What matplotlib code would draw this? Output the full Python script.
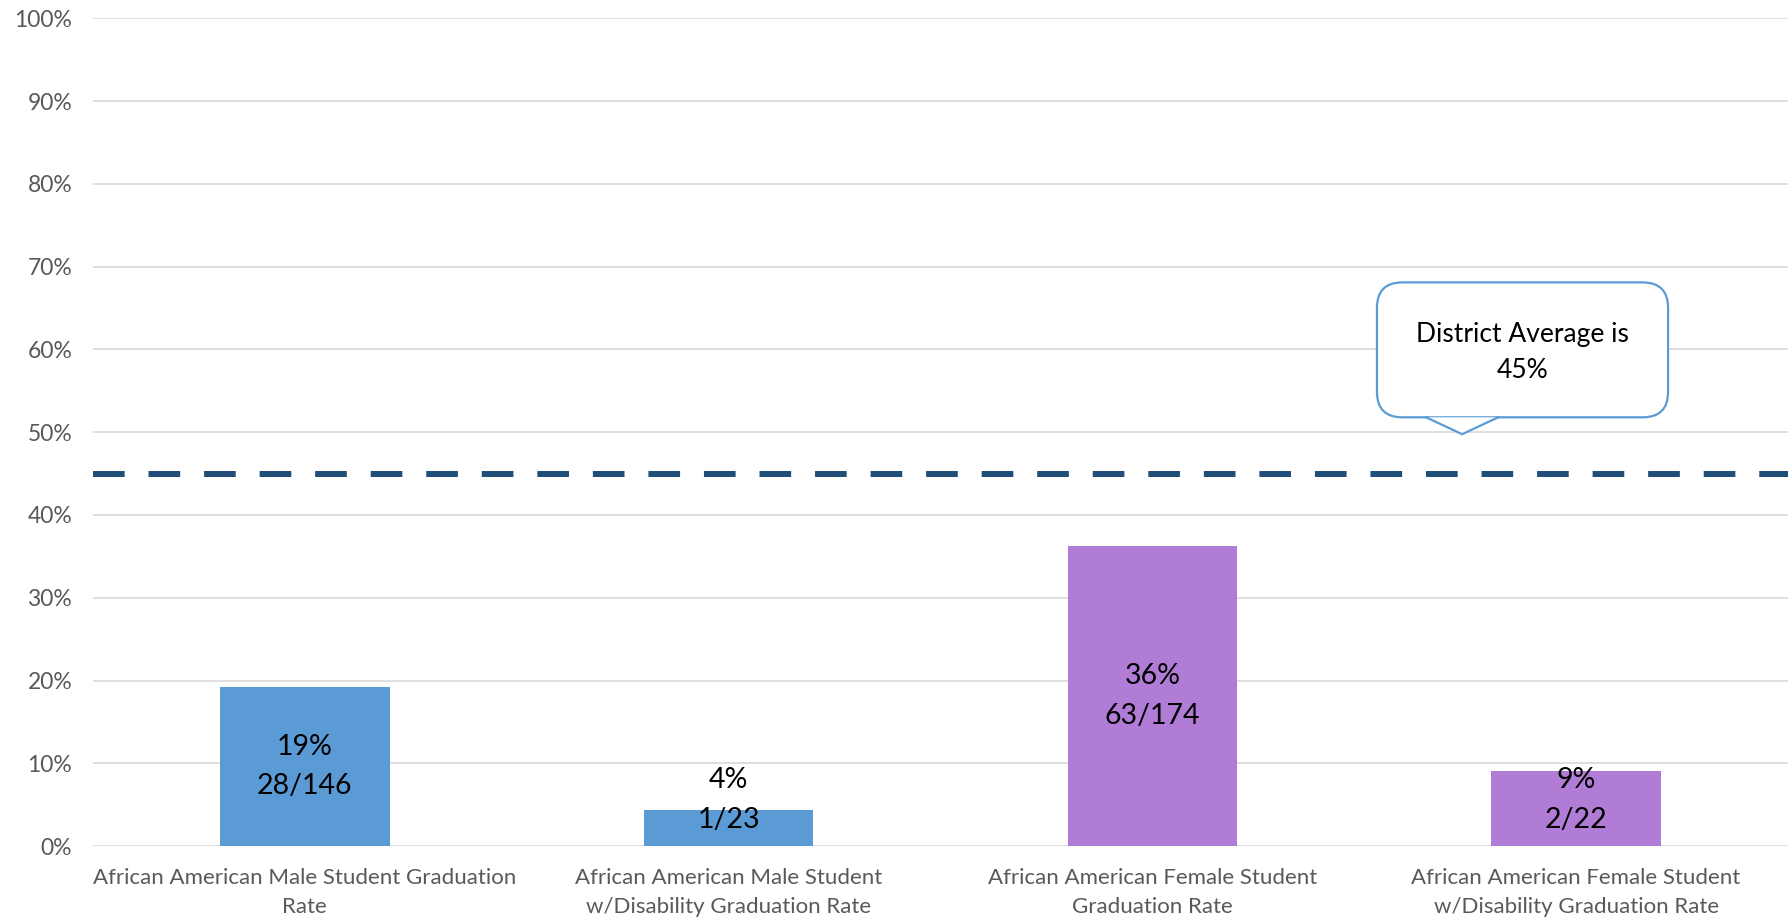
import matplotlib.pyplot as plt
from matplotlib.patches import FancyBboxPatch, Polygon

plt.rcParams['font.family'] = ['Lato', 'DejaVu Sans']

# graduation counts per group
categories = [
    "African American Male Student Graduation\nRate",
    "African American Male Student\nw/Disability Graduation Rate",
    "African American Female Student\nGraduation Rate",
    "African American Female Student\nw/Disability Graduation Rate",
]
graduated = [28, 1, 63, 2]
cohort = [146, 23, 174, 22]
bar_colors = ["#5B9BD5", "#5B9BD5", "#B07CD6", "#B07CD6"]
district_avg = 0.45
yticks = [i / 10 for i in range(11)]

rates = [g / c for g, c in zip(graduated, cohort)]

fig = plt.figure(figsize=(17.88, 9.19), dpi=100)
ax = fig.add_axes([0.052, 0.0794, 0.948, 0.9006])

x = range(len(categories))
ax.bar(x, rates, width=0.4, color=bar_colors, zorder=2)

# value labels inside the bars
for i, (r, g, c) in enumerate(zip(rates, graduated, cohort)):
    ax.text(i, max(r / 2, 0.056), f"{r:.0%}\n{g}/{c}", ha="center", va="center",
            fontsize=20.5, color="black", linespacing=1.65, zorder=4)

# district average line
ax.axhline(district_avg, color="#1F4E79", lw=4.3, dashes=(5.3, 4.0),
           dash_capstyle="butt", zorder=3)

ax.set_xlim(-0.5, 3.5)
ax.set_ylim(0, 1)
ax.set_yticks(yticks)
ax.set_yticklabels([f"{t:.0%}" for t in yticks])
ax.set_xticks(list(x))
ax.set_xticklabels(categories)
ax.tick_params(axis="both", length=0, colors="#595959", labelsize=16)
ax.tick_params(axis="y", labelsize=16.5, pad=15)
ax.tick_params(axis="x", pad=16)
for lbl in ax.get_xticklabels():
    lbl.set_linespacing(1.55)
ax.grid(axis="y", color="#D9D9D9", lw=1.2, zorder=0)
ax.set_axisbelow(True)
for s in ax.spines.values():
    s.set_visible(False)

# callout for the district average
bx0, bx1, by0, by1 = 2.530, 3.217, 0.518, 0.681
aspect = (1695 / 4) / 828
box = FancyBboxPatch((bx0, by0), bx1 - bx0, by1 - by0,
                     boxstyle="round,pad=0,rounding_size=0.06",
                     mutation_aspect=aspect,
                     facecolor="white", edgecolor="#5B9BD5", lw=1.6, zorder=5)
ax.add_patch(box)
tail = [(2.646, by0), (2.731, 0.4976), (2.816, by0)]
ax.add_patch(Polygon(tail, closed=True, facecolor="white", edgecolor="none", zorder=6))
ax.plot([p[0] for p in tail], [p[1] for p in tail], color="#5B9BD5", lw=1.6,
        zorder=7, solid_joinstyle="miter")
ax.text((bx0 + bx1) / 2, (by0 + by1) / 2 - 0.003, f"District Average is\n{district_avg:.0%}",
        ha="center", va="center", fontsize=19, linespacing=1.55, zorder=8)

fig.savefig("out.png", dpi=100)
